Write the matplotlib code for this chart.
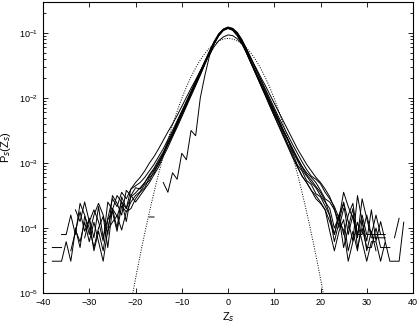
import matplotlib
matplotlib.use("Agg")

import matplotlib.pyplot as plt
import numpy as np

plt.rcParams["font.family"] = ["Liberation Sans", "DejaVu Sans"]

# bin centres of the histograms
z_bins = list(range(-38, 39))

# log10 P_s(Z_s) for each measured curve (None = empty bin)
curve_a = [-4.51, -4.51, -4.51, -4.21, -4.51, -4.03, -4.21, -3.91, -4.21, -3.91,
           -4.21, -4.51, -4.03, -3.91, -3.81, -4.03, -3.75, -3.70, -3.55, -3.45,
           -3.38, -3.22, -3.16, -3.00, -2.88, -2.70, -2.57, -2.41, -2.24, -2.10,
           -1.93, -1.78, -1.62, -1.46, -1.30, -1.15, -1.03, -0.95, -0.92, -0.95,
           -1.03, -1.15, -1.30, -1.46, -1.61, -1.78, -1.94, -2.08, -2.25, -2.38,
           -2.55, -2.72, -2.85, -3.03, -3.12, -3.27, -3.33, -3.47, -3.52, -3.66,
           -3.81, -4.21, -3.91, -4.03, -4.51, -4.21, -3.91, -4.21, -4.51, -4.21,
           -4.21, -4.51, -4.21, -4.51, -4.51, -4.51, -3.91]
curve_b = [-4.30, -4.30, -4.30, None, None, -4.00, -4.30, -3.82, -4.00, -4.30,
           -4.00, -3.82, -4.30, -3.70, -3.82, -3.60, -3.70, -3.52, -3.46, -3.38,
           -3.30, -3.20, -3.10, -2.98, -2.85, -2.69, -2.55, -2.39, -2.23, -2.08,
           -1.92, -1.76, -1.60, -1.45, -1.29, -1.14, -1.02, -0.94, -0.91, -0.94,
           -1.02, -1.14, -1.29, -1.45, -1.60, -1.76, -1.92, -2.07, -2.22, -2.37,
           -2.52, -2.66, -2.82, -2.96, -3.10, -3.20, -3.30, -3.38, -3.50, -3.60,
           -3.70, -4.00, -3.82, -4.30, -4.00, -3.70, -4.30, -4.00, -4.30, -4.30,
           -4.00, -4.30, -4.30, -4.30, None, None, None]
curve_c = [None, None, None, None, -4.35, -4.05, -3.75, -4.05, -3.87, -4.35,
           -4.05, -4.35, -3.87, -3.75, -4.05, -3.66, -3.75, -3.60, -3.50, -3.44,
           -3.33, -3.27, -3.12, -3.02, -2.86, -2.72, -2.58, -2.42, -2.27, -2.11,
           -1.95, -1.80, -1.64, -1.48, -1.31, -1.16, -1.04, -0.96, -0.93, -0.96,
           -1.04, -1.16, -1.31, -1.47, -1.63, -1.79, -1.95, -2.11, -2.27, -2.42,
           -2.58, -2.73, -2.90, -3.05, -3.20, -3.30, -3.42, -3.50, -3.60, -3.72,
           -4.05, -4.35, -4.05, -3.87, -4.35, -4.05, -4.35, -3.87, -4.35, -4.05,
           -4.35, None, None, None, None, None, None]
curve_d = [None, None, None, None, None, -3.72, -3.90, -3.60, -3.90, -3.72,
           -3.90, -4.20, -3.60, -3.72, -3.50, -3.60, -3.90, -3.50, -3.38, -3.40,
           -3.30, -3.18, -3.08, -2.95, -2.83, -2.68, -2.53, -2.37, -2.22, -2.06,
           -1.90, -1.75, -1.60, -1.44, -1.28, -1.13, -1.01, -0.94, -0.91, -0.93,
           -1.01, -1.13, -1.28, -1.44, -1.60, -1.75, -1.90, -2.05, -2.20, -2.35,
           -2.50, -2.64, -2.78, -2.92, -3.05, -3.15, -3.22, -3.30, -3.42, -3.55,
           -3.60, -3.72, -3.90, -3.60, -3.90, -4.20, -3.50, -3.90, -4.20, -3.72,
           -4.20, -3.90, -4.20, None, None, None, None]
curve_e = [None, None, None, None, None, None, None, -4.15, -3.85, -4.15,
           -3.67, -4.15, -3.85, -3.55, -3.67, -3.45, -3.55, -3.40, -3.35, -3.30,
           -3.22, -3.12, -3.02, -2.90, -2.78, -2.64, -2.50, -2.35, -2.20, -2.05,
           -1.90, -1.74, -1.59, -1.43, -1.28, -1.14, -1.02, -0.95, -0.92, -0.94,
           -1.00, -1.11, -1.25, -1.40, -1.55, -1.70, -1.85, -2.00, -2.15, -2.30,
           -2.44, -2.58, -2.72, -2.85, -2.98, -3.10, -3.20, -3.25, -3.32, -3.45,
           -3.55, -3.67, -3.85, -3.45, -3.67, -3.85, -4.15, -3.55, -3.85, -4.15,
           -4.15, -4.15, -4.15, None, -4.15, -3.85, None]
curve_f = [None, None, None, None, None, None, None, None, None, None,
           None, None, -4.00, -3.70, -4.00, -3.52, -3.70, -3.40, -3.30, -3.22,
           -3.12, -3.00, -2.90, -2.78, -2.65, -2.52, -2.40, -2.27, -2.13, -1.99,
           -1.85, -1.72, -1.58, -1.45, -1.33, -1.21, -1.12, -1.06, -1.03, -1.04,
           -1.09, -1.17, -1.28, -1.40, -1.53, -1.67, -1.80, -1.94, -2.08, -2.22,
           -2.36, -2.50, -2.64, -2.78, -2.90, -3.02, -3.12, -3.22, -3.30, -3.40,
           -3.52, -3.70, -4.00, -3.70, None, None, None, None, None, None,
           None, None, None, None, None, None, None]
curve_g = [None, None, None, None, None, None, None, None, None, None,
           None, None, None, None, None, None, None, None, None, None,
           None, -3.83, -3.83, None, -3.30, -3.45, -3.15, -3.25, -2.85, -2.95,
           -2.50, -2.58, -2.00, -1.65, -1.35, -1.17, -1.04, -0.95, -0.92, -0.93,
           -0.99, -1.10, -1.24, -1.39, -1.55, -1.71, -1.87, -2.03, -2.18, -2.34,
           -2.50, -2.64, -2.80, -2.94, -3.06, -3.18, -3.26, -3.36, -3.45, -3.58,
           -3.80, -4.10, -3.80, -4.10, -3.80, -3.62, -4.10, -3.80, -4.10, -4.10,
           -3.80, -4.10, -4.10, None, None, None, None]
curve_h = [None, None, -4.10, -4.10, -3.80, -4.10, -3.62, -3.80, -4.10, -3.80,
           -3.62, -3.80, -4.10, -3.50, -3.62, -3.80, -3.42, -3.50, -3.60, -3.50,
           -3.40, -3.30, -3.18, -3.06, -2.90, -2.76, -2.60, -2.45, -2.29, -2.13,
           -1.97, -1.81, -1.65, -1.48, -1.32, -1.16, -1.04, -0.96, -0.93, -0.95,
           -1.04, -1.16, -1.31, -1.47, -1.63, -1.79, -1.95, -2.12, -2.28, -2.44,
           -2.60, -2.76, -2.92, -3.06, -3.20, -3.30, -3.42, -3.55, -3.62, -3.72,
           -3.90, -4.10, -3.80, -3.62, -4.10, -3.80, -4.10, -4.10, -3.80, -4.10,
           -4.10, -4.10, None, None, None, None, None]

curves = [curve_a, curve_b, curve_c, curve_d, curve_e, curve_f, curve_g, curve_h]

# gaussian reference (zero mean, unit area)
gauss_sigma = 4.85

x_ticks = [-40, -30, -20, -10, 0, 10, 20, 30, 40]

fig = plt.figure(figsize=(4.18, 3.26), dpi=100)
ax = fig.add_axes([0.103, 0.101, 0.885, 0.893])

z = np.array(z_bins, dtype=float)
for c in curves:
    p = 10 ** np.array(c, dtype=float)
    ax.plot(z, p, color="black", linewidth=0.7)

zg = np.linspace(-40, 40, 801)
pg = np.exp(-zg ** 2 / (2 * gauss_sigma ** 2)) / (np.sqrt(2 * np.pi) * gauss_sigma)
ax.plot(zg, pg, color="black", linewidth=0.7, linestyle=(0, (1, 1.5)))

ax.set_yscale("log")
ax.set_xlim(-40, 40)
ax.set_ylim(1e-5, 0.3)
ax.set_xticks(x_ticks)
ax.set_xticklabels([str(t).replace("-", "\u2212") for t in x_ticks])

ax.tick_params(which="both", direction="in", top=True, right=True, labelsize=6.5, width=0.6)
ax.tick_params(which="major", length=3.5)
ax.tick_params(which="minor", length=2)
for s in ax.spines.values():
    s.set_linewidth(0.8)

ax.set_xlabel("Z$_s$", fontsize=8)
ax.set_ylabel("P$_s$(Z$_s$)", fontsize=8)
ax.xaxis.set_label_coords(0.5, -0.06)
ax.yaxis.set_label_coords(-0.08, 0.5)

fig.savefig("out.png", dpi=100)
plt.close(fig)
